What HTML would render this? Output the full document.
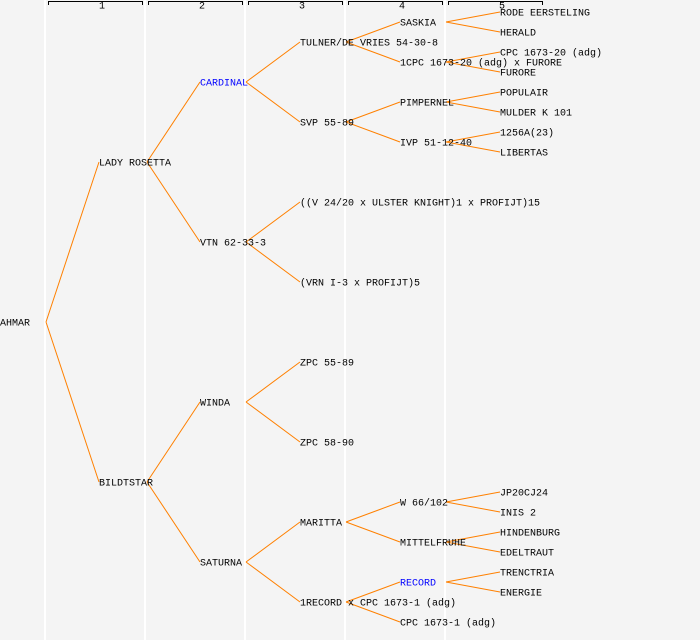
<!DOCTYPE html>
<html><head><meta charset="utf-8"><style>
html,body{margin:0;padding:0;background:#f4f4f4}
svg{display:block}
text{font-family:"Liberation Mono","DejaVu Sans Mono",monospace;font-size:10px;fill:#000;dominant-baseline:central}
</style></head><body>
<svg width="700" height="640" viewBox="0 0 700 640" xmlns="http://www.w3.org/2000/svg">
<rect width="700" height="640" fill="#f4f4f4"/>
<g fill="#fff">
<rect x="44" y="0" width="2" height="640"/><rect x="144" y="0" width="2" height="640"/><rect x="244" y="0" width="2" height="640"/><rect x="344" y="0" width="2" height="640"/><rect x="444" y="0" width="2" height="640"/>
</g>
<g stroke="#000" stroke-width="1" fill="none">
<path d="M48.5 5V1.5H142.5V5"/><path d="M148.5 5V1.5H242.5V5"/><path d="M248.5 5V1.5H342.5V5"/><path d="M348.5 5V1.5H442.5V5"/><path d="M448.5 5V1.5H542.5V5"/>
</g>
<g style="font-size:8px">
<text x="102" y="7" text-anchor="middle">1</text><text x="202" y="7" text-anchor="middle">2</text><text x="302" y="7" text-anchor="middle">3</text><text x="402" y="7" text-anchor="middle">4</text><text x="502" y="7" text-anchor="middle">5</text>
</g>
<g stroke="#ff8000" stroke-width="1" fill="none">
<path d="M46 322L99 162M46 322L99 482"/>
<path d="M147 162L200 82M147 162L200 242M147 482L200 402M147 482L200 562"/>
<path d="M246 82L300 42M246 82L300 122M246 242L300 202M246 242L300 282M246 402L300 362M246 402L300 442M246 562L300 522M246 562L300 602"/>
<path d="M346 42L400 22M346 42L400 62M346 122L400 102M346 122L400 142M346 522L400 502M346 522L400 542M346 602L400 582M346 602L400 622"/>
<path d="M446 22L500 12M446 22L500 32M446 62L500 52M446 62L500 72M446 102L500 92M446 102L500 112M446 142L500 132M446 142L500 152M446 502L500 492M446 502L500 512M446 542L500 532M446 542L500 552M446 582L500 572M446 582L500 592"/>
</g>
<g transform="translate(0,2)">
<text x="0" y="322">AHMAR</text>
<text x="99" y="162">LADY ROSETTA</text>
<text x="99" y="482">BILDTSTAR</text>
<text x="200" y="82" style="fill:#00f">CARDINAL</text>
<text x="200" y="242">VTN 62-33-3</text>
<text x="200" y="402">WINDA</text>
<text x="200" y="562">SATURNA</text>
<text x="300" y="42">TULNER/DE VRIES 54-30-8</text>
<text x="300" y="122">SVP 55-89</text>
<text x="300" y="202">((V 24/20 x ULSTER KNIGHT)1 x PROFIJT)15</text>
<text x="300" y="282">(VRN I-3 x PROFIJT)5</text>
<text x="300" y="362">ZPC 55-89</text>
<text x="300" y="442">ZPC 58-90</text>
<text x="300" y="522">MARITTA</text>
<text x="300" y="602">1RECORD x CPC 1673-1 (adg)</text>
<text x="400" y="22">SASKIA</text>
<text x="400" y="62">1CPC 1673-20 (adg) x FURORE</text>
<text x="400" y="102">PIMPERNEL</text>
<text x="400" y="142">IVP 51-12-40</text>
<text x="400" y="502">W 66/102</text>
<text x="400" y="542">MITTELFRUHE</text>
<text x="400" y="582" style="fill:#00f">RECORD</text>
<text x="400" y="622">CPC 1673-1 (adg)</text>
<text x="500" y="12">RODE EERSTELING</text>
<text x="500" y="32">HERALD</text>
<text x="500" y="52">CPC 1673-20 (adg)</text>
<text x="500" y="72">FURORE</text>
<text x="500" y="92">POPULAIR</text>
<text x="500" y="112">MULDER K 101</text>
<text x="500" y="132">1256A(23)</text>
<text x="500" y="152">LIBERTAS</text>
<text x="500" y="492">JP20CJ24</text>
<text x="500" y="512">INIS 2</text>
<text x="500" y="532">HINDENBURG</text>
<text x="500" y="552">EDELTRAUT</text>
<text x="500" y="572">TRENCTRIA</text>
<text x="500" y="592">ENERGIE</text>
</g>
</svg>
</body></html>
